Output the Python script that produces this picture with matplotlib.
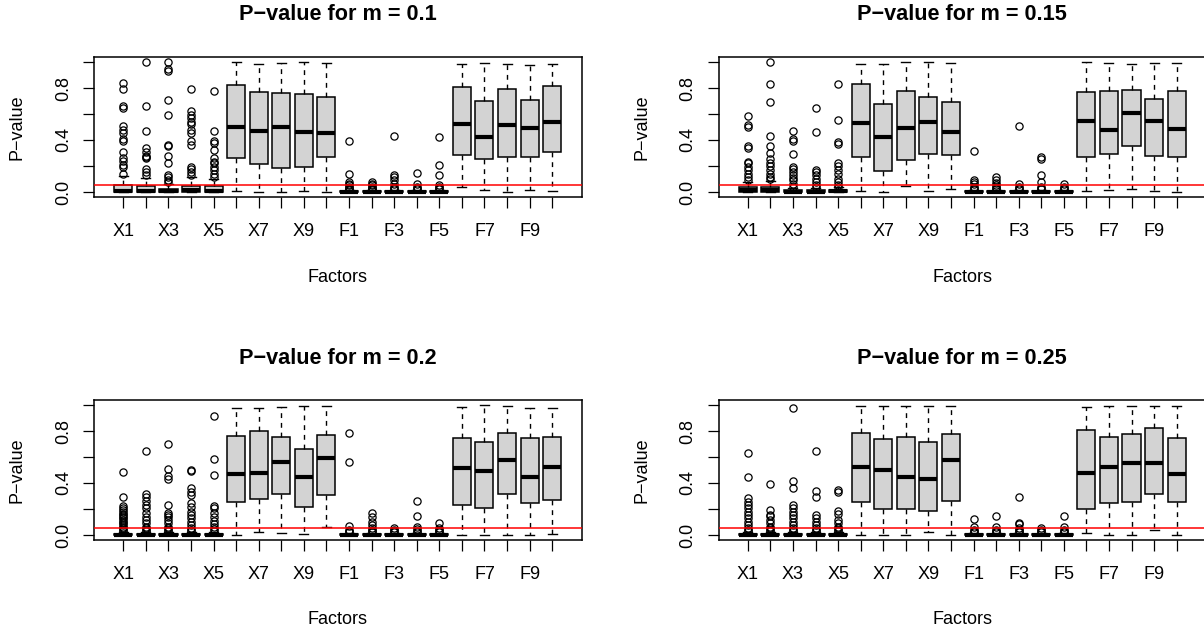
import matplotlib
matplotlib.use("Agg")
import matplotlib.pyplot as plt

plt.rcParams['font.family'] = ['Liberation Sans', 'DejaVu Sans']

# factor names on the x axis
factors = ['X%d' % i for i in range(1, 11)] + ['F%d' % i for i in range(1, 11)]
m_values = ['0.1', '0.15', '0.2', '0.25']

# ---- m = 0.1 ----
q1_a = [0.0, 0.0, 0.0, 0.0, 0.0, 0.263, 0.214, 0.188, 0.193, 0.266,
        0.0, 0.0, 0.0, 0.0, 0.0, 0.284, 0.25, 0.266, 0.266, 0.31]
med_a = [0.008, 0.01, 0.004, 0.012, 0.01, 0.503, 0.47, 0.503, 0.462, 0.457,
         0.001, 0.001, 0.001, 0.001, 0.001, 0.521, 0.42, 0.516, 0.49, 0.542]
q3_a = [0.05, 0.046, 0.026, 0.046, 0.046, 0.826, 0.766, 0.761, 0.756, 0.73,
        0.006, 0.006, 0.006, 0.006, 0.006, 0.805, 0.697, 0.792, 0.704, 0.813]
lo_a = [0.0, 0.0, 0.0, 0.0, 0.0, 0.008, 0.0, 0.0, 0.005, 0.0,
        0.0, 0.0, 0.0, 0.0, 0.0, 0.039, 0.013, 0.0, 0.018, 0.008]
hi_a = [0.12, 0.11, 0.065, 0.116, 0.10, 0.998, 0.988, 0.993, 0.998, 0.993,
        0.015, 0.015, 0.015, 0.015, 0.015, 0.988, 0.993, 0.988, 0.98, 0.988]
out_a = [
    [0.84, 0.79, 0.66, 0.65, 0.51, 0.48, 0.45, 0.41, 0.39, 0.31, 0.26, 0.24, 0.21, 0.19, 0.14],
    [1.0, 0.66, 0.47, 0.335, 0.31, 0.28, 0.27, 0.26, 0.18, 0.155, 0.13],
    [1.0, 0.95, 0.93, 0.71, 0.59, 0.36, 0.35, 0.28, 0.22, 0.13, 0.116, 0.095, 0.08],
    [0.79, 0.62, 0.59, 0.57, 0.54, 0.52, 0.48, 0.45, 0.39, 0.36, 0.19, 0.18, 0.155, 0.13],
    [0.78, 0.47, 0.39, 0.375, 0.32, 0.26, 0.23, 0.22, 0.19, 0.17, 0.14, 0.115],
    [], [], [], [], [],
    [0.395, 0.135, 0.08, 0.065, 0.05, 0.04, 0.032, 0.025, 0.02],
    [0.077, 0.065, 0.05, 0.04, 0.032, 0.025, 0.02],
    [0.43, 0.13, 0.116, 0.09, 0.065, 0.04, 0.03, 0.02],
    [0.147, 0.065, 0.04, 0.03, 0.02],
    [0.426, 0.206, 0.13, 0.05, 0.04, 0.03, 0.02],
    [], [], [], [], [],
]

# ---- m = 0.15 ----
q1_b = [0.0, 0.0, 0.0, 0.0, 0.0, 0.266, 0.16, 0.245, 0.289, 0.284,
        0.0, 0.0, 0.0, 0.0, 0.0, 0.27, 0.289, 0.356, 0.276, 0.266]
med_b = [0.015, 0.015, 0.003, 0.003, 0.004, 0.529, 0.426, 0.49, 0.537, 0.459,
         0.001, 0.001, 0.001, 0.001, 0.001, 0.55, 0.477, 0.606, 0.547, 0.482]
q3_b = [0.039, 0.04, 0.012, 0.012, 0.015, 0.83, 0.679, 0.779, 0.728, 0.691,
        0.006, 0.006, 0.006, 0.006, 0.006, 0.766, 0.774, 0.787, 0.715, 0.774]
lo_b = [0.0, 0.0, 0.0, 0.0, 0.0, 0.008, 0.0, 0.044, 0.008, 0.02,
        0.0, 0.0, 0.0, 0.0, 0.0, 0.008, 0.013, 0.02, 0.008, 0.0]
hi_b = [0.08, 0.085, 0.03, 0.03, 0.035, 0.988, 0.983, 0.998, 0.998, 0.993,
        0.015, 0.015, 0.015, 0.015, 0.015, 0.998, 0.993, 0.988, 0.993, 0.993]
out_b = [
    [0.586, 0.516, 0.498, 0.353, 0.335, 0.232, 0.22, 0.19, 0.17, 0.14, 0.116, 0.09],
    [1.0, 0.83, 0.69, 0.433, 0.353, 0.30, 0.25, 0.225, 0.2, 0.17, 0.14, 0.116, 0.10],
    [0.47, 0.41, 0.395, 0.29, 0.19, 0.18, 0.155, 0.13, 0.11, 0.09, 0.065, 0.04],
    [0.65, 0.464, 0.173, 0.155, 0.13, 0.10, 0.077, 0.05, 0.04],
    [0.83, 0.555, 0.387, 0.37, 0.22, 0.2, 0.17, 0.137, 0.103, 0.077, 0.05, 0.04],
    [], [], [], [], [],
    [0.315, 0.09, 0.077, 0.06, 0.04, 0.03, 0.02],
    [0.116, 0.095, 0.07, 0.05, 0.04, 0.03, 0.02],
    [0.508, 0.06, 0.04, 0.03, 0.02],
    [0.27, 0.25, 0.13, 0.077, 0.04, 0.03, 0.02],
    [0.06, 0.04, 0.03, 0.02],
    [], [], [], [], [],
]

# ---- m = 0.2 ----
q1_c = [0.0, 0.0, 0.0, 0.0, 0.0, 0.256, 0.274, 0.315, 0.213, 0.308,
        0.0, 0.0, 0.0, 0.0, 0.0, 0.231, 0.21, 0.313, 0.249, 0.269]
med_c = [0.002, 0.002, 0.002, 0.002, 0.002, 0.467, 0.474, 0.564, 0.444, 0.59,
         0.001, 0.001, 0.001, 0.001, 0.001, 0.513, 0.492, 0.577, 0.449, 0.526]
q3_c = [0.008, 0.008, 0.008, 0.008, 0.008, 0.762, 0.80, 0.751, 0.659, 0.769,
        0.006, 0.006, 0.006, 0.006, 0.006, 0.744, 0.713, 0.782, 0.744, 0.751]
lo_c = [0.0, 0.0, 0.0, 0.0, 0.0, 0.0, 0.02, 0.013, 0.008, 0.059,
        0.0, 0.0, 0.0, 0.0, 0.0, 0.0, 0.0, 0.0, 0.0, 0.008]
hi_c = [0.02, 0.02, 0.02, 0.02, 0.02, 0.974, 0.974, 0.987, 0.992, 0.992,
        0.015, 0.015, 0.015, 0.015, 0.015, 0.982, 1.0, 0.992, 0.979, 0.974]
out_c = [
    [0.482, 0.295, 0.223, 0.205, 0.19, 0.18, 0.165, 0.154, 0.14, 0.128, 0.115, 0.10, 0.09, 0.077, 0.065, 0.05, 0.04, 0.03],
    [0.649, 0.313, 0.295, 0.264, 0.23, 0.205, 0.172, 0.141, 0.115, 0.09, 0.064, 0.05, 0.04, 0.03],
    [0.70, 0.505, 0.454, 0.428, 0.23, 0.167, 0.154, 0.136, 0.115, 0.09, 0.064, 0.05, 0.04, 0.03],
    [0.50, 0.495, 0.359, 0.333, 0.308, 0.249, 0.218, 0.18, 0.154, 0.128, 0.10, 0.077, 0.05, 0.04, 0.03],
    [0.915, 0.582, 0.462, 0.223, 0.205, 0.167, 0.136, 0.11, 0.085, 0.059, 0.045, 0.03],
    [], [], [], [], [],
    [0.787, 0.564, 0.069, 0.04, 0.03, 0.02],
    [0.167, 0.136, 0.10, 0.077, 0.05, 0.04, 0.03, 0.02],
    [0.05, 0.04, 0.03, 0.02],
    [0.264, 0.146, 0.064, 0.044, 0.03, 0.02],
    [0.095, 0.05, 0.04, 0.03, 0.02],
    [], [], [], [], [],
]

# ---- m = 0.25 ----
q1_d = [0.0, 0.0, 0.0, 0.0, 0.0, 0.251, 0.20, 0.20, 0.185, 0.264,
        0.0, 0.0, 0.0, 0.0, 0.0, 0.20, 0.244, 0.256, 0.313, 0.256]
med_d = [0.002, 0.002, 0.002, 0.002, 0.002, 0.526, 0.50, 0.444, 0.428, 0.577,
         0.001, 0.001, 0.001, 0.001, 0.001, 0.479, 0.521, 0.551, 0.556, 0.469]
q3_d = [0.008, 0.008, 0.008, 0.008, 0.008, 0.782, 0.736, 0.756, 0.713, 0.774,
        0.006, 0.006, 0.006, 0.006, 0.006, 0.808, 0.756, 0.774, 0.821, 0.749]
lo_d = [0.0, 0.0, 0.0, 0.0, 0.0, 0.0, 0.0, 0.0, 0.02, 0.0,
        0.0, 0.0, 0.0, 0.0, 0.0, 0.013, 0.0, 0.0, 0.038, 0.0]
hi_d = [0.02, 0.02, 0.02, 0.02, 0.02, 0.995, 0.992, 0.992, 0.995, 0.995,
        0.015, 0.015, 0.015, 0.015, 0.015, 0.987, 0.995, 0.995, 0.995, 0.995]
out_d = [
    [0.628, 0.449, 0.282, 0.256, 0.231, 0.205, 0.18, 0.154, 0.128, 0.10, 0.077, 0.05, 0.04, 0.03],
    [0.39, 0.192, 0.154, 0.146, 0.115, 0.09, 0.064, 0.05, 0.04, 0.03],
    [0.974, 0.415, 0.359, 0.231, 0.205, 0.18, 0.154, 0.128, 0.10, 0.077, 0.05, 0.04, 0.03],
    [0.646, 0.338, 0.295, 0.154, 0.128, 0.10, 0.077, 0.05, 0.04, 0.03],
    [0.346, 0.328, 0.187, 0.162, 0.115, 0.09, 0.064, 0.05, 0.04, 0.03],
    [], [], [], [], [],
    [0.12, 0.064, 0.04, 0.03, 0.02],
    [0.146, 0.064, 0.04, 0.03, 0.02],
    [0.29, 0.095, 0.082, 0.05, 0.04, 0.03, 0.02],
    [0.05, 0.04, 0.03, 0.02],
    [0.146, 0.059, 0.04, 0.03, 0.02],
    [], [], [], [], [],
]

panels = [
    (q1_a, med_a, q3_a, lo_a, hi_a, out_a),
    (q1_b, med_b, q3_b, lo_b, hi_b, out_b),
    (q1_c, med_c, q3_c, lo_c, hi_c, out_c),
    (q1_d, med_d, q3_d, lo_d, hi_d, out_d),
]

W, H = 1204, 632
fig = plt.figure(figsize=(W / 100, H / 100), dpi=100)

# axes frames in pixels: (left, top)
lefts = [94, 718.5, 94, 718.5]
tops = [57, 57, 400, 400]
aw, ah = 487.5, 140

positions = list(range(1, 21))

for k, (q1, med, q3, lo, hi, out) in enumerate(panels):
    ax = fig.add_axes([lefts[k] / W, (H - tops[k] - ah) / H, aw / W, ah / H])

    stats = []
    for i in range(20):
        stats.append(dict(q1=q1[i], med=med[i], q3=q3[i],
                          whislo=lo[i], whishi=hi[i], fliers=out[i]))

    ax.bxp(stats, positions=positions, widths=0.8, capwidths=0.4,
           patch_artist=True, manage_ticks=False,
           boxprops=dict(facecolor='#D3D3D3', edgecolor='black', linewidth=1.1),
           whiskerprops=dict(color='black', linewidth=1.0, linestyle=(0, (3.5, 3.5))),
           capprops=dict(color='black', linewidth=1.0),
           medianprops=dict(color='black', linewidth=3, solid_capstyle='butt'),
           flierprops=dict(marker='o', markerfacecolor='none', markeredgecolor='black',
                           markersize=5.2, markeredgewidth=0.9, linestyle='none'))

    # significance level
    ax.axhline(0.05, color='red', linewidth=1.1, zorder=5)

    ax.set_xlim(-0.3, 21.3)
    ax.set_ylim(-0.0385, 1.0385)

    ax.set_xticks(positions)
    ax.set_xticklabels([f if i % 2 == 0 else '' for i, f in enumerate(factors)], fontsize=13)
    ax.set_yticks([0.0, 0.2, 0.4, 0.6, 0.8, 1.0])
    ax.set_yticklabels(['0.0', '', '0.4', '', '0.8', ''], rotation=90, va='center', fontsize=13)
    ax.tick_params(length=8, width=0.9, color='black')
    ax.tick_params(axis='x', pad=11)
    ax.tick_params(axis='y', pad=8)

    for s in ax.spines.values():
        s.set_linewidth(1.1)

    ax.set_xlabel('Factors', fontsize=13, va='center')
    ax.xaxis.set_label_coords(0.5, -80 / ah)
    ax.set_ylabel('P\u2212value', fontsize=13, va='center')
    ax.yaxis.set_label_coords(-77 / aw, 0.5)
    ax.set_title('P\u2212value for m = ' + m_values[k], fontsize=15.6, fontweight='bold',
                 va='center', y=1 + 42 / ah, pad=0)

fig.savefig('out.png', dpi=100)
